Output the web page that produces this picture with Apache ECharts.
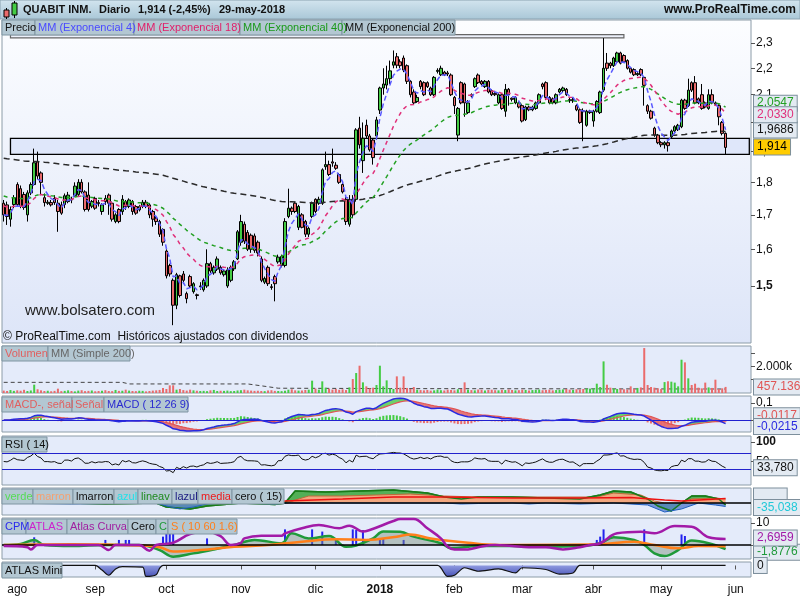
<!DOCTYPE html>
<html><head><meta charset="utf-8">
<script src="https://cdn.jsdelivr.net/npm/echarts@6/dist/echarts.min.js"></script>
<style>html,body{margin:0;padding:0;background:#fff}#c{width:800px;height:600px}</style>
</head><body><div id="c"></div>
<script>
// ---------------- DATA ----------------
// daily candles [open, close, low, high], 26-jul-2017 .. 29-may-2018
const ohlc = [
[1.735,1.700,1.680,1.745],[1.730,1.695,1.670,1.740],[1.687,1.716,1.665,1.725],[1.731,1.752,1.720,1.760],[1.793,1.731,1.725,1.800],
[1.780,1.725,1.720,1.790],[1.762,1.722,1.715,1.770],[1.700,1.767,1.680,1.775],[1.767,1.793,1.760,1.800],[1.793,1.863,1.790,1.910],
[1.866,1.820,1.810,1.900],[1.830,1.800,1.760,1.835],[1.752,1.737,1.725,1.765],[1.735,1.738,1.730,1.745],[1.737,1.730,1.725,1.745],
[1.750,1.737,1.730,1.760],[1.735,1.710,1.650,1.745],[1.730,1.705,1.700,1.740],[1.731,1.758,1.720,1.765],[1.740,1.760,1.735,1.770],
[1.748,1.745,1.735,1.755],[1.758,1.788,1.755,1.800],[1.762,1.800,1.755,1.810],[1.800,1.770,1.765,1.810],[1.770,1.716,1.710,1.775],
[1.760,1.716,1.710,1.800],[1.726,1.740,1.720,1.745],[1.750,1.720,1.715,1.755],[1.737,1.734,1.725,1.745],[1.710,1.730,1.700,1.735],
[1.750,1.740,1.730,1.760],[1.760,1.735,1.700,1.765],[1.735,1.687,1.680,1.740],[1.680,1.700,1.675,1.705],[1.716,1.680,1.675,1.720],
[1.710,1.747,1.700,1.760],[1.740,1.725,1.715,1.745],[1.725,1.745,1.720,1.750],[1.740,1.710,1.700,1.745],[1.725,1.705,1.700,1.730],
[1.715,1.725,1.710,1.730],[1.725,1.738,1.720,1.745],[1.738,1.725,1.720,1.745],[1.730,1.700,1.690,1.735],[1.710,1.687,1.665,1.715],
[1.690,1.680,1.670,1.695],[1.680,1.643,1.635,1.685],[1.657,1.620,1.610,1.660],[1.595,1.527,1.520,1.600],[1.555,1.532,1.525,1.560],
[1.515,1.450,1.400,1.520],[1.450,1.530,1.440,1.535],[1.527,1.475,1.470,1.530],[1.532,1.515,1.505,1.540],[1.480,1.467,1.455,1.485],
[1.525,1.500,1.495,1.530],[1.485,1.506,1.480,1.510],[1.477,1.475,1.465,1.480],[1.498,1.500,1.490,1.510],[1.490,1.515,1.485,1.520],
[1.500,1.560,1.495,1.600],[1.560,1.540,1.535,1.565],[1.535,1.550,1.530,1.555],[1.545,1.573,1.540,1.580],[1.550,1.535,1.530,1.555],
[1.530,1.540,1.525,1.545],[1.500,1.543,1.495,1.550],[1.515,1.550,1.510,1.555],[1.546,1.565,1.540,1.570],[1.573,1.650,1.570,1.655],
[1.620,1.680,1.610,1.700],[1.672,1.623,1.615,1.680],[1.648,1.600,1.595,1.655],[1.640,1.600,1.590,1.645],[1.638,1.597,1.590,1.645],
[1.620,1.590,1.580,1.625],[1.573,1.515,1.510,1.580],[1.510,1.520,1.505,1.525],[1.550,1.506,1.500,1.555],[1.498,1.496,1.490,1.505],
[1.525,1.506,1.460,1.530],[1.565,1.578,1.560,1.585],[1.555,1.580,1.550,1.585],[1.555,1.680,1.550,1.690],[1.695,1.720,1.690,1.780],
[1.720,1.710,1.700,1.725],[1.735,1.710,1.705,1.740],[1.663,1.725,1.655,1.730],[1.700,1.663,1.660,1.705],[1.680,1.643,1.635,1.685],
[1.643,1.660,1.635,1.665],[1.695,1.735,1.690,1.740],[1.747,1.710,1.705,1.750],[1.735,1.747,1.730,1.755],[1.735,1.840,1.730,1.845],
[1.850,1.857,1.840,1.900],[1.857,1.825,1.820,1.870],[1.866,1.862,1.850,1.910],[1.855,1.845,1.840,1.865],[1.825,1.800,1.795,1.830],
[1.793,1.770,1.765,1.800],[1.747,1.680,1.670,1.755],[1.672,1.747,1.665,1.760],[1.747,1.700,1.690,1.760],[1.747,1.974,1.740,1.980],
[1.980,1.923,1.910,2.020],[1.870,1.945,1.830,2.000],[1.990,1.953,1.945,2.010],[1.953,1.906,1.900,1.960],
[1.939,1.880,1.857,1.945],[1.953,2.009,1.940,2.020],[2.044,2.125,2.030,2.130],[2.125,2.140,2.100,2.200],[2.136,2.160,2.120,2.210],
[2.160,2.190,2.140,2.230],[2.212,2.225,2.200,2.270],[2.245,2.212,2.200,2.260],[2.225,2.210,2.200,2.235],[2.240,2.193,2.185,2.250],
[2.210,2.150,2.140,2.215],[2.150,2.100,2.090,2.155],[2.110,2.070,2.065,2.120],[2.075,2.090,2.070,2.100],[2.150,2.130,2.120,2.155],
[2.145,2.100,2.095,2.150],[2.145,2.130,2.125,2.150],[2.125,2.100,2.095,2.130],[2.100,2.165,2.095,2.170],[2.188,2.192,2.180,2.200],
[2.175,2.200,2.170,2.210],[2.185,2.175,2.170,2.190],[2.182,2.178,2.170,2.190],[2.174,2.100,2.095,2.180],[2.090,2.060,2.030,2.095],
[1.956,2.050,1.935,2.055],[2.145,2.070,2.065,2.150],[2.140,2.070,2.020,2.145],[2.035,2.070,2.030,2.080],[2.100,2.095,2.090,2.105],
[2.130,2.160,2.125,2.165],[2.174,2.145,2.140,2.180],[2.150,2.140,2.135,2.155],[2.130,2.150,2.125,2.155],[2.150,2.110,2.105,2.155],
[2.115,2.100,2.095,2.120],[2.105,2.100,2.095,2.110],[2.070,2.100,2.065,2.105],[2.100,2.050,2.045,2.105],[2.040,2.120,2.020,2.140],
[2.120,2.100,2.060,2.125],[2.087,2.083,2.075,2.090],[2.070,2.090,2.065,2.095],[2.070,2.055,2.050,2.075],[2.060,2.005,2.000,2.065],
[2.010,2.055,2.005,2.060],[2.055,2.045,2.040,2.060],[2.045,2.055,2.040,2.060],[2.050,2.070,2.045,2.075],[2.070,2.100,2.065,2.105],
[2.140,2.130,2.120,2.145],[2.145,2.090,2.080,2.150],[2.090,2.070,2.065,2.095],[2.085,2.070,2.065,2.090],[2.070,2.100,2.065,2.105],
[2.110,2.120,2.105,2.125],[2.115,2.125,2.110,2.130],[2.120,2.100,2.095,2.125],[2.082,2.078,2.070,2.090],[2.078,2.082,2.070,2.090],
[2.060,2.045,2.040,2.065],[2.045,2.000,1.995,2.050],[2.042,2.038,1.935,2.050],[1.990,2.040,1.985,2.045],[2.035,2.040,2.030,2.045],
[2.005,2.040,1.985,2.045],[2.040,2.075,2.035,2.080],[2.035,2.110,2.030,2.115],[2.117,2.200,2.110,2.320],[2.220,2.200,2.190,2.260],
[2.220,2.210,2.200,2.225],[2.210,2.240,2.205,2.245],[2.225,2.260,2.220,2.265],[2.260,2.220,2.215,2.265],[2.250,2.225,2.220,2.255],
[2.230,2.200,2.195,2.235],[2.200,2.185,2.180,2.205],[2.195,2.175,2.170,2.200],[2.175,2.180,2.170,2.185],[2.195,2.175,2.170,2.200],
[2.165,2.135,2.060,2.170],[2.060,2.040,2.030,2.065],[2.040,2.015,2.010,2.045],[1.980,1.956,1.950,1.985],[1.956,1.930,1.925,1.960],
[1.930,1.923,1.915,1.935],[1.923,1.930,1.910,1.935],[1.930,1.920,1.900,1.935],[1.950,1.970,1.945,1.975],[1.970,1.985,1.965,1.990],
[1.975,1.990,1.970,1.995],[1.985,2.080,1.980,2.085],[2.080,2.050,2.045,2.085],[2.060,2.117,2.055,2.160],[2.145,2.117,2.110,2.150],
[2.145,2.070,2.065,2.170],[2.085,2.070,2.065,2.090],[2.100,2.050,2.045,2.140],[2.070,2.055,2.050,2.075],[2.050,2.100,2.045,2.120],
[2.100,2.070,2.065,2.120],[2.070,2.065,2.060,2.075],[2.060,2.020,1.990,2.065],[2.000,1.962,1.955,2.005],[1.962,1.914,1.890,1.965]
];
// volume in thousands of shares
const volumeK = [
180,150,220,160,200,170,240,150,190,625,
280,200,150,170,130,160,325,140,160,200,
150,120,180,210,140,160,190,130,150,170,
210,150,140,230,160,170,250,180,150,140,
170,160,120,150,180,200,230,375,300,575,
580,250,300,220,180,250,200,170,150,160,
140,200,230,150,170,160,180,140,150,190,
210,250,200,180,160,170,150,140,190,210,
160,150,140,170,250,280,200,180,190,230,
250,925,330,250,875,400,320,260,300,240,
280,220,420,1050,1500,2050,800,500,350,400,
600,2050,500,950,350,300,1250,400,1250,380,
300,450,250,220,200,230,180,200,260,210,
190,250,230,200,280,300,800,250,220,200,
260,240,190,230,250,210,200,240,220,260,
230,200,210,250,230,190,220,240,260,210,
230,250,200,220,240,270,300,250,230,280,
260,300,340,330,350,700,450,2375,620,400,
350,300,320,280,260,500,300,380,420,3375,
600,450,400,350,300,820,880,850,780,500,
2500,2300,1100,600,700,400,350,780,420,380,
1000,300,350,457.136
];
// read-off key points [dayIndex, value]
const volSma200K = [[0,800],[35,800],[37,680],[72,680],[78,470],[81,360],[117,330],[213,300]];
const verde  = [[0,5],[10,10],[20,0],[30,-10],[45,0],[48,-40],[55,-60],[60,-30],[70,0],[80,-15],[83,0],[86,120],[95,110],[105,120],[115,130],[125,100],[130,60],[135,40],[140,60],[150,60],[160,50],[170,40],[176,80],[180,120],[185,110],[190,40],[193,-30],[197,-80],[200,0],[203,70],[207,70],[211,40],[213,-20]];
const marron = [[0,0],[84,0],[86,30],[90,70],[100,70],[110,80],[120,90],[130,70],[140,60],[160,60],[175,60],[180,100],[188,80],[192,20],[195,0],[200,0],[203,40],[210,50],[213,40]];
const media  = [[0,0],[83,20],[100,40],[115,60],[130,60],[150,50],[170,50],[185,55],[195,30],[200,20],[213,45]];
const azul   = [[0,0],[10,-5],[20,-10],[30,-5],[45,0],[48,-30],[52,-60],[56,-40],[60,-10],[65,0],[75,-5],[80,-10],[84,0],[130,0],[135,-10],[140,-5],[150,0],[155,-10],[160,0],[170,-10],[180,0],[190,-20],[195,-90],[200,-60],[205,0],[210,-20],[213,-35.038]];
const cpmBars = [[9,3.5],[30,2.3],[34,2.3],[36,2.3],[37,2.3],[47,3.8],[48,5],[49,5],[50,5],[60,3],[83,7.1],[91,7.1],[94,6.1],[98,2.3],[103,7.1],[104,6.8],[106,6.8],[111,3],[112,3],[118,2.3],[175,2.3],[176,3.8],[177,7.1],[189,7.1],[200,4.8],[201,4.1]];
const atlas = [[0,-0.5],[7,-1],[8,-2],[10,0],[28,0],[31,-2.3],[33,0],[40,0],[43,-2.6],[45,0],[50,1],[55,5],[60,6],[64,4],[67,0],[70,1],[71,3],[76,4.2],[82,4.2],[83,5.3],[88,7.6],[93,9.1],[99,7.6],[102,8.8],[106,6.1],[108,6.8],[115,10.9],[117,11.8],[121,11.8],[125,7.6],[129,3],[131,-0.8],[133,-2],[137,-2],[140,-1],[145,0],[150,-0.5],[155,-1],[160,-1],[165,-2],[170,-1],[173,0],[176,0.8],[181,5.3],[188,6],[192,5.3],[198,8.6],[203,8.3],[208,3.5],[213,2.6959]];
const cLine = [[0,0],[5,0.5],[9,2.3],[12,0],[20,-0.5],[30,0],[40,0],[46,-2.3],[50,-5.3],[56,-3.8],[62,-2],[68,0],[74,2.3],[82,0.8],[85,5.3],[90,3],[96,4.1],[101,-0.8],[104,-0.2],[109,3],[112,6.1],[117,6],[121,3.8],[129,0.8],[132,-1.5],[140,-0.5],[150,-0.5],[160,-0.8],[170,-0.5],[176,0.8],[180,3.5],[186,2.3],[189,0],[192,-3.8],[195,-5],[199,-2.3],[203,2],[208,0.8],[213,-1.8776]];
const sLine = [[0,0],[20,0.3],[40,-0.2],[46,-1],[50,-3],[58,-2.3],[68,-0.8],[78,0],[88,1.5],[98,2.6],[107,2.3],[116,3.8],[120,4.8],[126,3],[137,1],[146,0],[175,0.3],[186,1.5],[192,0],[199,-1.5],[205,-0.5],[213,-0.6]];
const atlasMini = [[17,0],[27,0],[29,-4],[31,-8.5],[33,-3],[35,-1],[41,-1.5],[42,-9.5],[45,-8],[46,-2.5],[47,0],[128,0],[131,-9.5],[133,-8.5],[136,-2],[140,-5],[146,-3],[151,-6.5],[153,-2],[160,-3.5],[164,-7.5],[168,-6.5],[170,0],[213,0]];
const priceTicks = [1.5,1.6,1.7,1.8,1.9,2.0,2.1,2.2,2.3];
const holidays = ['2017-12-25','2017-12-26','2018-01-01','2018-03-30','2018-04-02','2018-05-01'];

// ---------------- HELPERS ----------------
function buildDates(a,b){
  const out=[]; let d=new Date(a+'T00:00:00Z'); const e=new Date(b+'T00:00:00Z');
  while(d<=e){ const wd=d.getUTCDay(); const s=d.toISOString().slice(0,10);
    if(wd!==0&&wd!==6&&holidays.indexOf(s)<0) out.push(s); d=new Date(d.getTime()+86400000);} return out;
}
const dates = buildDates('2017-07-26','2018-06-07');
const N = dates.length;
const closes = ohlc.map(r=>r[1]);
function ema(v,n,seed){ const k=2/(n+1); let e=seed; return v.map(x=>{e=e+k*(x-e); return e;}); }
function rsi(c,n){ let ag=0.01, al=0.01; const out=[50]; for(let i=1;i<c.length;i++){ const d=c[i]-c[i-1]; ag=(ag*(n-1)+Math.max(d,0))/n; al=(al*(n-1)+Math.max(-d,0))/n; out.push(100-100/(1+ag/al)); } return out; }
const ema4=ema(closes,4,closes[0]), ema18=ema(closes,18,1.73), ema40=ema(closes,40,1.76), ema200=ema(closes,200,1.88);
const e12=ema(closes,12,closes[0]), e26=ema(closes,26,closes[0]);
const macd=e12.map((v,i)=>v-e26[i]); const sig=ema(macd,9,0); const hist=macd.map((v,i)=>v-sig[i]);
const rsiV=rsi(closes,14);
const L=Math.log; const last=a=>a[a.length-1];
const fmtC=(v,d)=>v.toFixed(d).replace('.',',');
const FONT='"Liberation Sans", Arial, sans-serif';
const CLEAR='rgba(0,0,0,0)';

function tagLabel(text,color,bg,dy){ return {show:true,position:'end',distance:3,formatter:text,color:color,backgroundColor:bg||'#e3eaf2',borderColor:'#7d8f9c',borderWidth:1,padding:[2,3,1,3],fontSize:12,fontFamily:FONT,offset:[0,dy||0]}; }
function tagLine(y,label){ return {symbol:['none','none'],silent:true,animation:false,lineStyle:{color:CLEAR,width:1,type:'solid'},data:[{yAxis:y}],label:label,emphasis:{disabled:true}}; }

// ---------------- LAYOUT ----------------
const LEFT=2, W=749;
const G=[[20,323],[346,47],[396,36],[436,49],[488,27],[518,41],[562,15]];
const panelBg='#e4ebfa';
const grids=G.map((g,i)=>({left:LEFT,width:W,top:g[0],height:g[1],show:true,borderColor:'#8c9ca8',borderWidth:1,
  backgroundColor: i===0?{type:'linear',x:0,y:0,x2:0,y2:1,colorStops:[{offset:0,color:'#fcfdff'},{offset:1,color:'#dde5f8'}]}:panelBg}));
const mon=['ene','feb','mar','abr','may','jun','jul','ago','sep','oct','nov','dic'];
const isMonthStart=i=>i>0&&dates[i].slice(5,7)!==dates[i-1].slice(5,7);
const xAxes=G.map((g,i)=>{
  const bottom=i===G.length-1;
  return {type:'category',gridIndex:i,data:dates,boundaryGap:true,
    axisLine:{show:false},splitLine:{show:false},
    axisTick:{show:bottom,alignWithLabel:true,interval:(idx)=>isMonthStart(idx),length:4,lineStyle:{color:'#555'}},
    axisLabel:{show:bottom,interval:(idx)=>isMonthStart(idx),margin:7,fontSize:12,fontFamily:FONT,color:'#111',
      formatter:v=>{const m=+v.slice(5,7); return m===1?'{b|'+v.slice(0,4)+'}':mon[m-1];},rich:{b:{fontWeight:'bold',fontSize:12,fontFamily:FONT}}}};
});
function yAx(i,min,max,ticks,labels,fmt){
  return {type:'value',gridIndex:i,position:'right',min:min,max:max,scale:true,splitLine:{show:false},axisLine:{show:false},
    axisTick:{show:!!ticks,length:4,customValues:ticks||[],lineStyle:{color:'#555'}},
    axisLabel:{show:!!labels,customValues:labels||[],margin:5,fontSize:12,fontFamily:FONT,color:'#111',formatter:fmt,rich:{b:{fontWeight:'bold',fontSize:12,fontFamily:FONT}}}};
}
const yAxes=[
  yAx(0,L(1.3568),L(2.395),priceTicks.map(L),priceTicks.map(L),v=>{const p=fmtC(Math.exp(v),1); return p==='1,5'?'{b|'+p+'}':p;}),
  yAx(1,0,3530000,[1e6,2e6,3e6],[2e6],v=>(v/1e6).toFixed(0)+'.000k'),
  yAx(2,-0.0706,0.141,[0,0.1],[0.1],v=>fmtC(v,1)),
  yAx(3,-10.3,115.4,[50,100],[50,100],v=>v===100?'{b|100}':String(v)),
  yAx(4,-120,150,null,null,null),
  yAx(5,-6.36,12.27,[0,10],[10],v=>String(v)),
  yAx(6,-10,3,null,null,null)
];

// ---------------- SERIES ----------------
const series=[];
const lnOHLC=ohlc.map(r=>r.map(L));
series.push({type:'candlestick',xAxisIndex:0,yAxisIndex:0,data:lnOHLC,barWidth:3,z:3,
  itemStyle:{color:'#44cc44',color0:'#ea6b6b',borderColor:'#000',borderColor0:'#000',borderWidth:1},
  markArea:{silent:true,data:[
    [{xAxis:2,yAxis:L(1.945),itemStyle:{color:'#dfe7fa',borderColor:'#000',borderWidth:1.3}},{xAxis:N-1,yAxis:L(1.891)}],
    [{xAxis:2,yAxis:L(2.334),itemStyle:{color:'#edf1fb',borderColor:'#666',borderWidth:1.2}},{xAxis:183,yAxis:L(2.321)}]]},
  markLine:tagLine(L(last(closes)),tagLabel(fmtC(last(closes),3),'#000','#ffcc00'))
});
function emaSeries(v,color,dash,width,tag){
  const s={type:'line',xAxisIndex:0,yAxisIndex:0,data:v.map(L),symbol:'none',z:4,lineStyle:{color:color,width:width,type:dash}};
  if(tag) s.markLine=tag; return s;
}
series.push(emaSeries(ema200,'#2a2a2a',[6,4],1.5,tagLine(L(last(ema200)),tagLabel(fmtC(last(ema200),4),'#111'))));
series.push(emaSeries(ema40,'#22a022',[4,4],1.5,tagLine(L(last(ema40)),tagLabel(fmtC(last(ema40),4),'#22a022',null,-4))));
series.push(emaSeries(ema18,'#e0307a',[4,4],1.5,tagLine(L(last(ema18)),tagLabel(fmtC(last(ema18),4),'#e0307a',null,2))));
series.push(emaSeries(ema4,'#5a5aff',[5,3],1.5,null));

// volume
series.push({type:'bar',xAxisIndex:1,yAxisIndex:1,barWidth:2,z:3,
  data:volumeK.map((v,i)=>({value:v*1000,itemStyle:{color:ohlc[i][1]>=ohlc[i][0]?'#44cc44':'#ea6b6b'}})),
  markLine:tagLine(last(volumeK)*1000,tagLabel(last(volumeK).toFixed(3),'#e05555'))});
series.push({type:'line',xAxisIndex:1,yAxisIndex:1,data:volSma200K.map(p=>[p[0],p[1]*1000]),symbol:'none',z:2,lineStyle:{color:'#444',width:1,type:[4,3]}});

// MACD
const mBase=macd.map((v,i)=>Math.min(v,sig[i])), mUp=macd.map((v,i)=>v>=sig[i]?v-sig[i]:0), mDn=macd.map((v,i)=>v<sig[i]?sig[i]-v:0);
series.push({type:'line',xAxisIndex:2,yAxisIndex:2,data:mBase,symbol:'none',stack:'mf',stackStrategy:'all',lineStyle:{opacity:0},z:2});
series.push({type:'line',xAxisIndex:2,yAxisIndex:2,data:mUp,symbol:'none',stack:'mf',stackStrategy:'all',lineStyle:{opacity:0},areaStyle:{color:'#5ccf5c',opacity:0.9},z:2});
series.push({type:'line',xAxisIndex:2,yAxisIndex:2,data:mDn,symbol:'none',stack:'mf',stackStrategy:'all',lineStyle:{opacity:0},areaStyle:{color:'#e46a6a',opacity:0.9},z:2});
series.push({type:'bar',xAxisIndex:2,yAxisIndex:2,barWidth:2,z:3,data:hist.map(v=>({value:v,itemStyle:{color:v>=0?'#44cc44':'#ea6b6b'}})),
  markLine:{symbol:['none','none'],silent:true,data:[{yAxis:0}],label:{show:false},lineStyle:{color:'#2020d0',width:1.2,type:'solid'}}});
series.push({type:'line',xAxisIndex:2,yAxisIndex:2,data:sig,symbol:'none',z:4,lineStyle:{color:'#e05555',width:1.2},
  markLine:tagLine(last(sig),tagLabel(fmtC(last(sig),4),'#e05555',null,-6))});
series.push({type:'line',xAxisIndex:2,yAxisIndex:2,data:macd,symbol:'none',z:5,lineStyle:{color:'#2a2ae0',width:1.5},
  markLine:tagLine(last(macd),tagLabel(fmtC(last(macd),4),'#2a2ae0',null,3))});

// RSI
series.push({type:'line',xAxisIndex:3,yAxisIndex:3,data:rsiV,symbol:'none',z:4,lineStyle:{color:'#111',width:1},
  markLine:{symbol:['none','none'],silent:true,data:[{yAxis:70},{yAxis:30}],label:{show:false},lineStyle:{color:'#2222cc',width:1,type:'solid'}}});
series.push({type:'line',xAxisIndex:3,yAxisIndex:3,data:[[N-8,last(rsiV)]],symbol:'none',lineStyle:{color:CLEAR},
  markLine:tagLine(last(rsiV),tagLabel(fmtC(last(rsiV),3),'#111'))});

// verde / marron panel
series.push({type:'line',xAxisIndex:4,yAxisIndex:4,data:marron,symbol:'none',z:2,lineStyle:{color:'#c06a3a',width:1},areaStyle:{color:'#f2a77f',opacity:1},
  markLine:tagLine(last(marron)[1],tagLabel('        ','#c06a3a',null,-3))});
series.push({type:'line',xAxisIndex:4,yAxisIndex:4,data:verde,symbol:'none',z:1,lineStyle:{color:'#208a20',width:1.5},areaStyle:{color:'#3aa43a',opacity:0.85}});
series.push({type:'line',xAxisIndex:4,yAxisIndex:4,data:verde,symbol:'none',z:3,lineStyle:{color:'#1a7a1a',width:1.5}});
series.push({type:'line',xAxisIndex:4,yAxisIndex:4,data:azul,symbol:'none',z:3,lineStyle:{color:'#2060c0',width:1},areaStyle:{color:'#5a7fd0',opacity:0.8},
  markLine:tagLine(last(azul)[1],tagLabel(fmtC(last(azul)[1],3),'#20c8d8',null,1))});
series.push({type:'line',xAxisIndex:4,yAxisIndex:4,data:media,symbol:'none',z:4,lineStyle:{color:'#ee1111',width:1.3},
  markLine:{symbol:['none','none'],silent:true,data:[{yAxis:0}],label:{show:false},lineStyle:{color:'#000',width:1.5,type:'solid'}}});

// CPM / ATLAS panel
series.push({type:'bar',xAxisIndex:5,yAxisIndex:5,data:cpmBars,barWidth:2,z:2,itemStyle:{color:'#2222ee'}});
series.push({type:'line',xAxisIndex:5,yAxisIndex:5,data:cLine,symbol:'none',smooth:0.4,z:3,lineStyle:{color:'#1f9a3a',width:2.5},areaStyle:{color:'#7a8f7a',opacity:0.45},
  markLine:tagLine(last(cLine)[1],tagLabel(fmtC(last(cLine)[1],4),'#1f9a3a',null,3))});
series.push({type:'line',xAxisIndex:5,yAxisIndex:5,data:sLine,symbol:'none',smooth:0.4,z:4,lineStyle:{color:'#ff7f1a',width:2.5},
  markLine:{symbol:['none','none'],silent:true,data:[{yAxis:0}],label:{show:false},lineStyle:{color:'#000',width:1.5,type:'solid'}}});
series.push({type:'line',xAxisIndex:5,yAxisIndex:5,data:atlas,symbol:'none',smooth:0.4,z:5,lineStyle:{color:'#a21aa8',width:2.5},
  markLine:tagLine(last(atlas)[1],tagLabel(fmtC(last(atlas)[1],4),'#a21aa8',null,-1))});

// ATLAS Mini
series.push({type:'line',xAxisIndex:6,yAxisIndex:6,data:atlasMini,symbol:'none',smooth:0.3,z:3,lineStyle:{color:'#111',width:1.2},
  areaStyle:{color:{type:'linear',x:0,y:0,x2:0,y2:1,colorStops:[{offset:0,color:'#8f9ae0'},{offset:1,color:'#4a55b8'}]},opacity:1},
  markLine:tagLine(0,tagLabel('0','#111'))});

// ---------------- GRAPHICS (header, legend tags, watermarks) ----------------
function gtext(x,y,text,opt){ return {type:'text',x:x,y:y,silent:true,z:100,style:Object.assign({text:text,font:'11px '+FONT,fill:'#111',verticalAlign:'middle'},opt||{})}; }
function gtag(x,y,w,text,color){ return [
  {type:'rect',silent:true,z:99,shape:{x:x,y:y,width:w,height:15},style:{fill:'#b3c7d2',stroke:'#7f95a2',lineWidth:1}},
  gtext(x+3,y+8,text,{fill:color})]; }
let gr=[];
gr.push({type:'rect',silent:true,z:98,shape:{x:0,y:0,width:800,height:19},style:{fill:{type:'linear',x:0,y:0,x2:0,y2:1,colorStops:[{offset:0,color:'#d3e5ef'},{offset:1,color:'#a9c7d7'}]},stroke:'#8aa2b0',lineWidth:1}});
gr.push({type:'line',silent:true,z:100,shape:{x1:6.5,y1:8,x2:6.5,y2:19},style:{stroke:'#000',lineWidth:1}});
gr.push({type:'rect',silent:true,z:100,shape:{x:4,y:10,width:5,height:7},style:{fill:'#ea6b6b',stroke:'#000',lineWidth:1}});
gr.push({type:'line',silent:true,z:100,shape:{x1:14.5,y1:1,x2:14.5,y2:18},style:{stroke:'#000',lineWidth:1}});
gr.push({type:'rect',silent:true,z:100,shape:{x:12,y:3,width:5,height:12},style:{fill:'#44cc44',stroke:'#000',lineWidth:1}});
gr.push(gtext(23,10,'QUABIT INM.',{font:'bold 11px '+FONT}));
gr.push(gtext(99,10,'Diario',{font:'bold 11px '+FONT}));
gr.push(gtext(138,10,'1,914 (-2,45%)',{font:'bold 11px '+FONT}));
gr.push(gtext(219,10,'29-may-2018',{font:'bold 11px '+FONT}));
gr.push(gtext(796,10,'www.ProRealTime.com',{font:'bold 12px '+FONT,align:'right'}));
gr=gr.concat(gtag(2,20,33,'Precio','#111'),gtag(35,20,99,'MM (Exponencial 4)','#4a4aff'),gtag(134,20,106,'MM (Exponencial 18)','#e0206a'),
  gtag(240,20,102,'MM (Exponencial 40)','#1a9a1a'),gtag(342,20,113,'MM (Exponencial 200)','#111'));
gr=gr.concat(gtag(2,346,46,'Volumen','#e06060'),gtag(48,346,82,'MM (Simple 200)','#666'));
gr=gr.concat(gtag(2,397,70,'MACD-, señal','#e06060'),gtag(72,397,32,'Señal','#e06060'),gtag(104,397,84,'MACD ( 12 26 9)','#2a2ad0'));
gr=gr.concat(gtag(2,437,45,'RSI ( 14)','#111'));
gr=gr.concat(gtag(2,489,31,'verde','#55dd55'),gtag(33,489,40,'marron','#f5a070'),gtag(73,489,41,'lmarron','#111'),gtag(114,489,24,'azul','#22e0e8'),
  gtag(138,489,34,'lineav','#1e8a1e'),gtag(172,489,26,'lazul','#1a1a80'),gtag(198,489,34,'media','#ee1a1a'),gtag(232,489,52,'cero ( 15)','#111'));
gr=gr.concat(gtag(2,519,24,'CPM','#2a2aee'),gtag(26,519,41,'ATLAS','#cc22cc'),gtag(67,519,61,'Atlas Curva','#a020a0'),gtag(128,519,28,'Cero','#111'),
  gtag(156,519,12,'C','#1f9a3a'),gtag(168,519,69,'S ( 10 60 1.6)','#ff7f1a'));
gr=gr.concat(gtag(2,563,60,'ATLAS Mini','#111'));
gr.push(gtext(25,311,'www.bolsatero.com',{font:'15px '+FONT,fill:'#222'}));
gr.push(gtext(3,337,'© ProRealTime.com  Históricos ajustados con dividendos',{font:'12px '+FONT,fill:'#111'}));

const chart=echarts.init(document.getElementById('c'),null,{renderer:'canvas'});
chart.setOption({animation:false,backgroundColor:'#ffffff',grid:grids,xAxis:xAxes,yAxis:yAxes,series:series,graphic:{elements:gr}});
</script></body></html>
